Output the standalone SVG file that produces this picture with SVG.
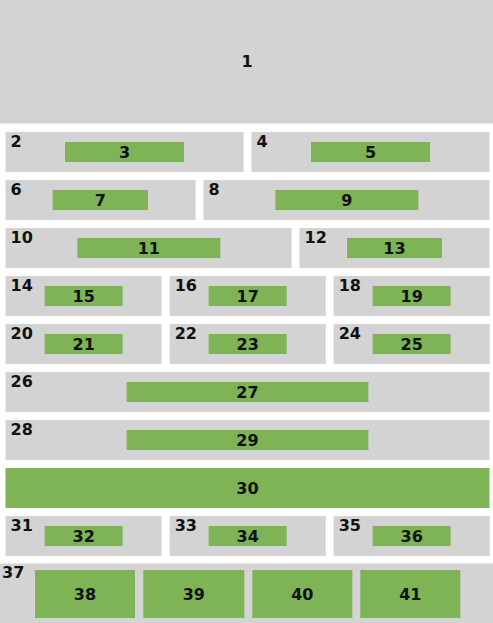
<svg xmlns="http://www.w3.org/2000/svg" width="493" height="623" viewBox="0 0 493 623">
<style>
.g{fill:#d3d3d3}
.n{fill:#7eb356}
text{font-family:"DejaVu Sans",sans-serif;font-weight:bold;font-size:16px;fill:#111}
.c{text-anchor:middle}
</style>
<rect width="493" height="623" fill="#ffffff"/>
<g id="n1"><rect class="g" x="0" y="0" width="493" height="123.5"/><text class="c" x="247" y="67">1</text></g>
<g id="n2"><rect class="g" x="5.5" y="132" width="238" height="40"/><text x="10.5" y="146.5">2</text></g>
<g id="n3"><rect class="n" x="65" y="142" width="119" height="20"/><text class="c" x="124.5" y="158">3</text></g>
<g id="n4"><rect class="g" x="251.5" y="132" width="238" height="40"/><text x="256.5" y="146.5">4</text></g>
<g id="n5"><rect class="n" x="311" y="142" width="119" height="20"/><text class="c" x="370.5" y="158">5</text></g>
<g id="n6"><rect class="g" x="5.5" y="180" width="190" height="40"/><text x="10.5" y="194.5">6</text></g>
<g id="n7"><rect class="n" x="52.7" y="190" width="95.3" height="20"/><text class="c" x="100.3" y="206">7</text></g>
<g id="n8"><rect class="g" x="203.5" y="180" width="286" height="40"/><text x="208.5" y="194.5">8</text></g>
<g id="n9"><rect class="n" x="275.3" y="190" width="143" height="20"/><text class="c" x="346.8" y="206">9</text></g>
<g id="n10"><rect class="g" x="5.5" y="228" width="286" height="40"/><text x="10.5" y="242.5">10</text></g>
<g id="n11"><rect class="n" x="77.3" y="238" width="143" height="20"/><text class="c" x="148.8" y="254">11</text></g>
<g id="n12"><rect class="g" x="299.5" y="228" width="190" height="40"/><text x="304.5" y="242.5">12</text></g>
<g id="n13"><rect class="n" x="347" y="238" width="95" height="20"/><text class="c" x="394.5" y="254">13</text></g>
<g id="n14"><rect class="g" x="5.5" y="276" width="156" height="40"/><text x="10.5" y="290.5">14</text></g>
<g id="n15"><rect class="n" x="44.7" y="286" width="78" height="20"/><text class="c" x="83.7" y="302">15</text></g>
<g id="n16"><rect class="g" x="169.7" y="276" width="156" height="40"/><text x="174.7" y="290.5">16</text></g>
<g id="n17"><rect class="n" x="208.7" y="286" width="78" height="20"/><text class="c" x="247.7" y="302">17</text></g>
<g id="n18"><rect class="g" x="333.7" y="276" width="156" height="40"/><text x="338.7" y="290.5">18</text></g>
<g id="n19"><rect class="n" x="372.7" y="286" width="78" height="20"/><text class="c" x="411.7" y="302">19</text></g>
<g id="n20"><rect class="g" x="5.5" y="324" width="156" height="40"/><text x="10.5" y="338.5">20</text></g>
<g id="n21"><rect class="n" x="44.7" y="334" width="78" height="20"/><text class="c" x="83.7" y="350">21</text></g>
<g id="n22"><rect class="g" x="169.7" y="324" width="156" height="40"/><text x="174.7" y="338.5">22</text></g>
<g id="n23"><rect class="n" x="208.7" y="334" width="78" height="20"/><text class="c" x="247.7" y="350">23</text></g>
<g id="n24"><rect class="g" x="333.7" y="324" width="156" height="40"/><text x="338.7" y="338.5">24</text></g>
<g id="n25"><rect class="n" x="372.7" y="334" width="78" height="20"/><text class="c" x="411.7" y="350">25</text></g>
<g id="n26"><rect class="g" x="5.5" y="372" width="484" height="40"/><text x="10.5" y="386.5">26</text></g>
<g id="n27"><rect class="n" x="126.7" y="382" width="241.7" height="20"/><text class="c" x="247.5" y="398">27</text></g>
<g id="n28"><rect class="g" x="5.5" y="420" width="484" height="40"/><text x="10.5" y="434.5">28</text></g>
<g id="n29"><rect class="n" x="126.7" y="430" width="241.7" height="20"/><text class="c" x="247.5" y="446">29</text></g>
<g id="n30"><rect class="n" x="5.5" y="468" width="484" height="40"/><text class="c" x="247.5" y="494">30</text></g>
<g id="n31"><rect class="g" x="5.5" y="516" width="156" height="40"/><text x="10.5" y="530.5">31</text></g>
<g id="n32"><rect class="n" x="44.7" y="526" width="78" height="20"/><text class="c" x="83.7" y="542">32</text></g>
<g id="n33"><rect class="g" x="169.7" y="516" width="156" height="40"/><text x="174.7" y="530.5">33</text></g>
<g id="n34"><rect class="n" x="208.7" y="526" width="78" height="20"/><text class="c" x="247.7" y="542">34</text></g>
<g id="n35"><rect class="g" x="333.7" y="516" width="156" height="40"/><text x="338.7" y="530.5">35</text></g>
<g id="n36"><rect class="n" x="372.7" y="526" width="78" height="20"/><text class="c" x="411.7" y="542">36</text></g>
<g id="n37"><rect class="g" x="0" y="563.5" width="493" height="59.5"/><text x="2" y="578">37</text></g>
<g id="n38"><rect class="n" x="35" y="570" width="100" height="48"/><text class="c" x="85" y="600">38</text></g>
<g id="n39"><rect class="n" x="143.3" y="570" width="101" height="48"/><text class="c" x="193.8" y="600">39</text></g>
<g id="n40"><rect class="n" x="252.3" y="570" width="100" height="48"/><text class="c" x="302.3" y="600">40</text></g>
<g id="n41"><rect class="n" x="360.3" y="570" width="100" height="48"/><text class="c" x="410.3" y="600">41</text></g>
<g id="connectors"></g>
</svg>
